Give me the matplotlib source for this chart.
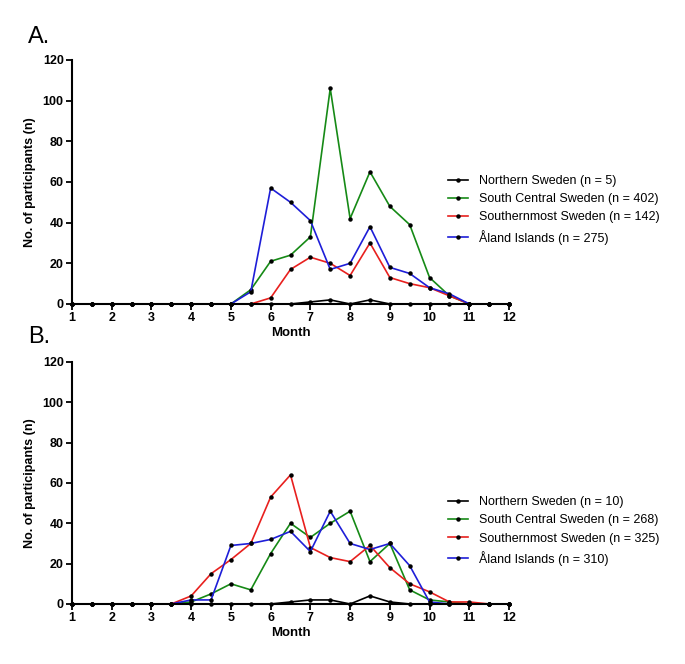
import matplotlib
matplotlib.use("Agg")
import matplotlib.pyplot as plt
from matplotlib.ticker import MultipleLocator

plt.rcParams["font.family"] = ["Liberation Sans", "DejaVu Sans"]

# Half-month bins from 1 to 12
months = [1 + 0.5 * i for i in range(23)]

# Panel A counts
a_northern = [0, 0, 0, 0, 0, 0, 0, 0, 0, 0, 0, 0, 1, 2, 0, 2, 0, 0, 0, 0, 0, 0, 0]
a_south_central = [0, 0, 0, 0, 0, 0, 0, 0, 0, 7, 21, 24, 33, 106, 42, 65, 48, 39, 13, 4, 0, 0, 0]
a_southernmost = [0, 0, 0, 0, 0, 0, 0, 0, 0, 0, 3, 17, 23, 20, 14, 30, 13, 10, 8, 4, 0, 0, 0]
a_aland = [0, 0, 0, 0, 0, 0, 0, 0, 0, 6, 57, 50, 41, 17, 20, 38, 18, 15, 8, 5, 0, 0, 0]
a_labels = [
    "Northern Sweden (n = 5)",
    "South Central Sweden (n = 402)",
    "Southernmost Sweden (n = 142)",
    "\u00c5land Islands (n = 275)",
]

# Panel B counts
b_northern = [0, 0, 0, 0, 0, 0, 0, 0, 0, 0, 0, 1, 2, 2, 0, 4, 1, 0, 0, 0, 0, 0, 0]
b_south_central = [0, 0, 0, 0, 0, 0, 1, 5, 10, 7, 25, 40, 33, 40, 46, 21, 30, 7, 2, 1, 0, 0, 0]
b_southernmost = [0, 0, 0, 0, 0, 0, 4, 15, 22, 30, 53, 64, 28, 23, 21, 29, 18, 10, 6, 1, 1, 0, 0]
b_aland = [0, 0, 0, 0, 0, 0, 2, 2, 29, 30, 32, 36, 26, 46, 30, 27, 30, 19, 1, 0, 0, 0, 0]
b_labels = [
    "Northern Sweden (n = 10)",
    "South Central Sweden (n = 268)",
    "Southernmost Sweden (n = 325)",
    "\u00c5land Islands (n = 310)",
]

colors = ["#000000", "#168a16", "#e8201e", "#1e1ed8"]


def draw_panel(fig, rect, series, labels, tag, tag_y, legend_y):
    ax = fig.add_axes(rect)
    for vals, lab, col in zip(series, labels, colors):
        ax.plot(months, vals, color=col, lw=1.2, marker="o", ms=2.2,
                mfc="black", mec="black", label=lab, clip_on=False)
    ax.set_xlim(1, 12)
    ax.set_ylim(0, 120)
    ax.xaxis.set_major_locator(MultipleLocator(1))
    ax.yaxis.set_major_locator(MultipleLocator(20))
    for side in ("top", "right"):
        ax.spines[side].set_visible(False)
    for side in ("left", "bottom"):
        ax.spines[side].set_linewidth(1.5)
    ax.tick_params(which="major", direction="out", length=4, width=1.3,
                   labelsize=9, pad=2)
    for t in ax.get_xticklabels() + ax.get_yticklabels():
        t.set_fontweight("bold")
    ax.set_ylabel("No. of participants (n)", fontsize=9, fontweight="bold",
                  labelpad=5)
    ax.set_xlabel("Month", fontsize=9.5, fontweight="bold", labelpad=2)
    ax.legend(loc="center left", bbox_to_anchor=(0.654, legend_y),
              bbox_transform=fig.transFigure, frameon=False, fontsize=9,
              handlelength=1.6, handletextpad=0.9, labelspacing=0.5,
              borderpad=0, borderaxespad=0)
    fig.text(0.041, tag_y, tag, fontsize=17, ha="left", va="center")
    return ax


fig = plt.figure(figsize=(6.85, 6.64), dpi=100)
draw_panel(fig, [0.1051, 0.5422, 0.638, 0.3675],
           [a_northern, a_south_central, a_southernmost, a_aland],
           a_labels, "A.", 0.945, 0.684)
draw_panel(fig, [0.1051, 0.0904, 0.638, 0.3645],
           [b_northern, b_south_central, b_southernmost, b_aland],
           b_labels, "B.", 0.4925, 0.2003)

fig.savefig("out.png", dpi=100)
